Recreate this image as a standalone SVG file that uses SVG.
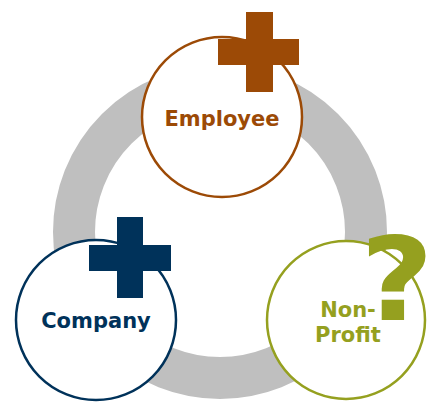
<svg xmlns="http://www.w3.org/2000/svg" width="433" height="402" viewBox="0 0 433 402">
<style>
.node{fill:#ffffff;stroke-width:2.5}
.lbl{font-family:"DejaVu Sans",Verdana,sans-serif;font-weight:bold;font-size:21px;text-anchor:middle}
</style>
<rect width="433" height="402" fill="#ffffff"/>
<g id="connectors">
<circle cx="220" cy="232" r="146" fill="none" stroke="#bfbfbf" stroke-width="42"/>
</g>
<g id="employee">
<circle class="node" cx="222" cy="117" r="80" stroke="#9c4a06"/>
<path d="M246 12h27v27h26v26h-26v27h-27v-27h-28v-26h28z" fill="#9c4a06"/>
<text class="lbl" x="222" y="126" fill="#9c4a06">Employee</text>
</g>
<g id="company">
<circle class="node" cx="96" cy="320" r="80" stroke="#00325a"/>
<path d="M117 217h26v28h28v26h-28v27h-26v-27h-28v-26h28z" fill="#00325a"/>
<text class="lbl" x="96" y="328" fill="#00325a">Company</text>
</g>
<g id="nonprofit">
<circle class="node" cx="346" cy="320" r="79" stroke="#95a01f"/>
<text transform="translate(397,320) scale(1.1,1)" fill="#95a01f" style="font-family:'DejaVu Sans',Verdana,sans-serif;font-weight:bold;font-size:115px;text-anchor:middle">?</text>
<text class="lbl" x="348" y="317" fill="#95a01f">Non-</text>
<text class="lbl" x="348" y="342" fill="#95a01f">Profit</text>
</g>
</svg>
